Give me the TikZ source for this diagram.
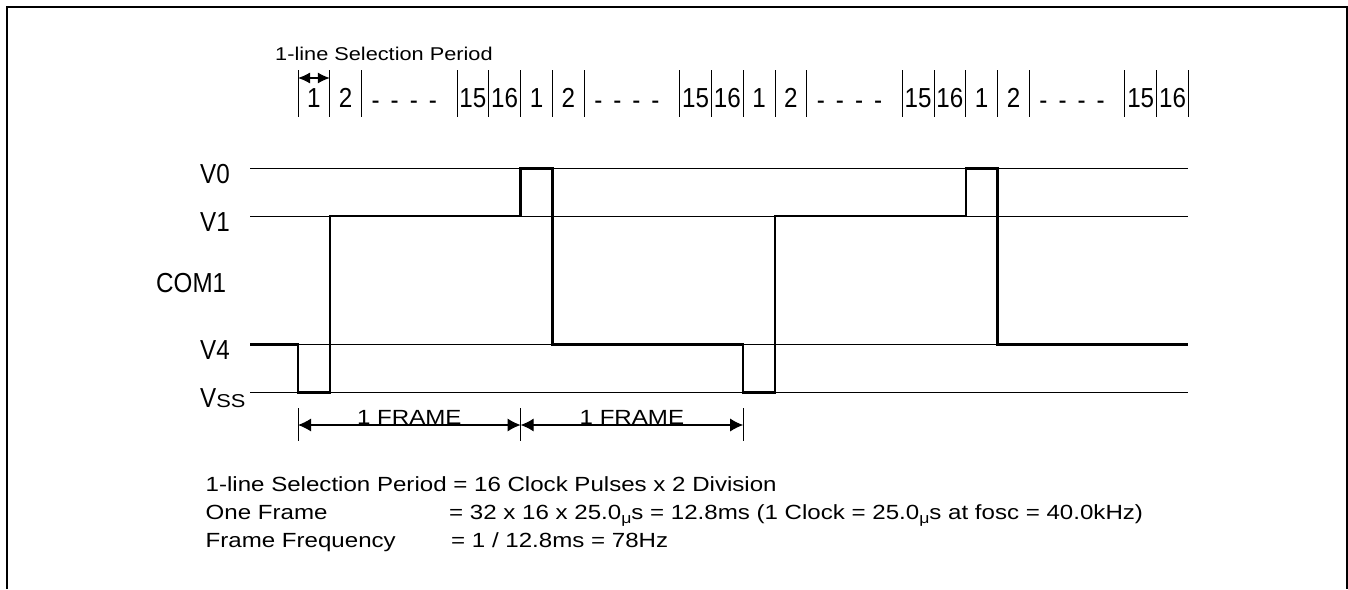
\documentclass[tikz,border=0pt]{standalone}
\usepackage{fontspec}
\setmainfont{Liberation Sans}
\newfontfamily\txtfont[FakeStretch=1.175]{Liberation Sans}
\newfontfamily\lblfont[FakeStretch=0.88]{Liberation Sans}
\usetikzlibrary{arrows.meta}
\newcommand{\smallmu}{{\fontsize{15}{15}\selectfont\raisebox{-4pt}{μ}}}
\begin{document}
\begin{tikzpicture}[x=1pt,y=-1pt,
  refline/.style={line width=1pt},
  wave/.style={line width=2.4pt, line join=miter},
  tickline/.style={line width=1pt},
  lbl/.style={font=\lblfont\fontsize{27.5}{30}\selectfont, inner sep=0pt, anchor=base west},
  num/.style={font=\lblfont\fontsize{27.5}{30}\selectfont, inner sep=0pt, anchor=base},
  note/.style={font=\txtfont\fontsize{20.5}{24}\selectfont, inner sep=0pt, anchor=base west},
  dimarrow/.style={line width=1.1pt, {Latex[length=13pt,width=13pt]}-{Latex[length=13pt,width=13pt]}},
  slotarrow/.style={line width=1.1pt, {Latex[length=12pt,width=11pt]}-{Latex[length=12pt,width=11pt]}},
]
\useasboundingbox (0,0) rectangle (1348,589);
% outer frame (open at the bottom)
\draw[line width=2.3pt] (6.7,589) -- (6.7,6.7) -- (1347,6.7) -- (1347,589);

% reference levels
\foreach \n/\y in {0/168.3,1/216,4/344.3,S/392.3} {
  \coordinate (L\n) at (250,\y);
  \coordinate (R\n) at (1188,\y);
  \draw[refline] (L\n) -- (R\n);
}
\node[lbl] (lv0) at (200,183.3) {V0};
\node[lbl] (lv1) at (200,231) {V1};
\node[lbl] (lcom) at (156,292) {COM1};
\node[lbl] (lv4) at (200,359.3) {V4};
\node[lbl] (lvss) at (200,407) {V{\txtfont\fontsize{18.6}{20}\selectfont SS}};

% COM1 waveform
\draw[wave] (L4) -- (298,344.3) -- (298,392.3) -- (329.8,392.3) -- (329.8,216)
  -- (520.6,216) -- (520.6,168.3) -- (552.4,168.3) -- (552.4,344.3)
  -- (743.2,344.3) -- (743.2,392.3) -- (775,392.3) -- (775,216)
  -- (965.8,216) -- (965.8,168.3) -- (997.6,168.3) -- (997.6,344.3) -- (R4);

% slot ticks
\foreach \k in {0,1,2,5,6,7,8,9,12,13,14,15,16,19,20,21,22,23,26,27,28}
  \draw[tickline] ({298+\k*31.8},70) -- ({298+\k*31.8},117);

% slot numbers
\foreach \f in {0,1,2,3} {
  \pgfmathsetmacro\b{298+7*\f*31.8}
  \node[num] (a\f) at ({\b+0.5*31.8},107) {1};
  \node[num] (b\f) at ({\b+1.5*31.8},107) {2};
  \node[num] (d\f) at ({\b+3.5*31.8-5},109) {-\hspace{11pt}-\hspace{11pt}-\hspace{11pt}-};
  \node[num] (c\f) at ({\b+5.5*31.8},107) {15};
  \node[num] (e\f) at ({\b+6.5*31.8},107) {16};
}

% 1-line selection period
\node[note, font=\txtfont\fontsize{18.5}{22}\selectfont] (selp) at (275,60) {1-line Selection Period};
\coordinate (sa) at (298,78);
\coordinate (sb) at (329.8,78);
\draw[slotarrow] (sa) -- (sb);

% frame dimensions
\coordinate (fa) at (298,425);
\coordinate (fb) at (520.6,425);
\coordinate (fc) at (743.2,425);
\foreach \x in {298,520.6,743.2}
  \draw[tickline] (\x,408) -- (\x,441);
\draw[dimarrow] (fa) -- (fb);
\draw[dimarrow] (fb) -- (fc);
\node[note, anchor=base] (fr1) at (409.3,424) {1 FRAME};
\node[note, anchor=base] (fr2) at (631.9,424) {1 FRAME};

% notes
\node[note] (n1) at (205.5,491) {1-line Selection Period = 16 Clock Pulses x 2 Division};
\node[note] (n2) at (205.5,519.5) {One Frame};
\node[note] (n2b) at (449,519.5) {= 32 x 16 x 25.0\smallmu{}s = 12.8ms (1 Clock = 25.0\smallmu{}s at fosc = 40.0kHz)};
\node[note] (n3) at (205.5,547.5) {Frame Frequency};
\node[note] (n3b) at (451,547.5) {= 1 / 12.8ms = 78Hz};
\end{tikzpicture}
\end{document}
